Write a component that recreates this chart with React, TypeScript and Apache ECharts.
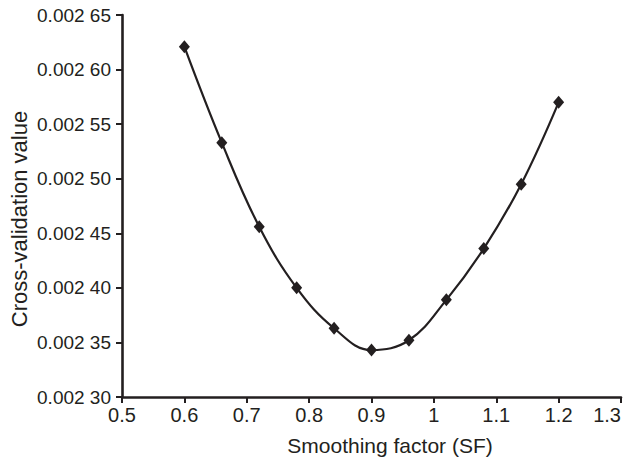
import React, { useEffect, useRef } from "react";
import * as echarts from "echarts";

// Smoothing factor (SF) tried and the cross-validation value obtained for each
const smoothingFactors = [0.6, 0.66, 0.72, 0.78, 0.84, 0.9, 0.96, 1.02, 1.08, 1.14, 1.2];
const crossValidation = [
  0.002621, 0.002533, 0.002456, 0.0024, 0.002363, 0.002343, 0.002352, 0.002389, 0.002436,
  0.002495, 0.00257,
];

const xTitle = "Smoothing factor (SF)";
const yTitle = "Cross-validation value";

const INK = "#231f20";
const FONT = "'Liberation Sans', Arial, Helvetica, sans-serif";

// "0.00265" -> "0.002 65"
const formatY = (v: number) => {
  const s = v.toFixed(5);
  return s.slice(0, 5) + " " + s.slice(5);
};

export default function App() {
  const ref = useRef<HTMLDivElement>(null);

  useEffect(() => {
    if (!ref.current) return;
    const chart = echarts.init(ref.current, undefined, { renderer: "svg" });
    chart.setOption({
      animation: false,
      backgroundColor: "#ffffff",
      grid: { left: 122, right: 6, top: 15, bottom: 64, containLabel: false },
      xAxis: {
        type: "value",
        min: 0.5,
        max: 1.3,
        interval: 0.1,
        splitLine: { show: false },
        axisLine: { show: true, onZero: false, lineStyle: { color: INK, width: 2.6 } },
        axisTick: { show: true, length: 6, lineStyle: { color: INK, width: 2 } },
        axisLabel: {
          color: INK,
          fontFamily: FONT,
          fontSize: 20,
          margin: 8,
          alignMaxLabel: "right",
          formatter: (v: number) => String(Math.round(v * 10) / 10),
        },
      },
      yAxis: {
        type: "value",
        min: 0.0023,
        max: 0.00265,
        interval: 0.00005,
        splitLine: { show: false },
        axisLine: { show: true, onZero: false, lineStyle: { color: INK, width: 2.6 } },
        axisTick: { show: true, length: 6, lineStyle: { color: INK, width: 2 } },
        axisLabel: {
          color: INK,
          fontFamily: FONT,
          fontSize: 19,
          margin: 11,
          formatter: formatY,
        },
      },
      graphic: [
        {
          type: "text",
          x: 390,
          y: 445,
          style: {
            text: xTitle,
            fill: INK,
            font: `21px ${FONT}`,
            align: "center",
            verticalAlign: "middle",
          },
        },
        {
          type: "text",
          x: 19,
          y: 219,
          rotation: Math.PI / 2,
          style: {
            text: yTitle,
            fill: INK,
            font: `22px ${FONT}`,
            align: "center",
            verticalAlign: "middle",
          },
        },
      ],
      series: [
        {
          type: "line",
          data: smoothingFactors.map((x, i) => [x, crossValidation[i]]),
          smooth: 0.4,
          symbol: "diamond",
          symbolSize: [11, 13],
          lineStyle: { color: INK, width: 2.2 },
          itemStyle: { color: INK },
        },
      ],
    });
    return () => chart.dispose();
  }, []);

  return (
    <div
      ref={ref}
      style={{ position: "absolute", left: 0, top: 0, width: 627, height: 461 }}
    />
  );
}
